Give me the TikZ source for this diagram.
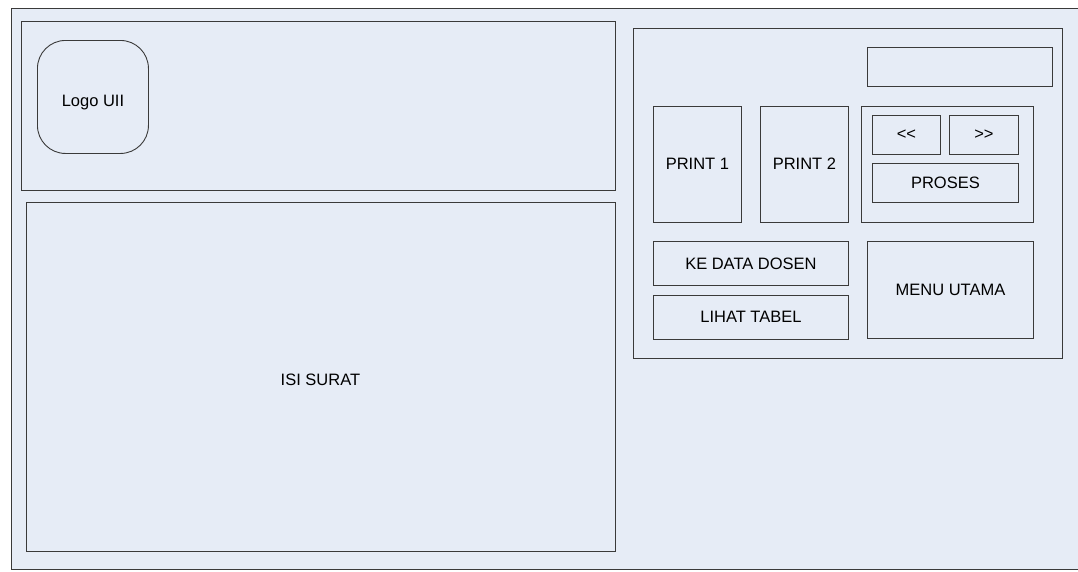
\documentclass[tikz,border=0pt]{standalone}
\usepackage{fontspec}
\setmainfont{Liberation Sans}
\definecolor{panel}{HTML}{E6ECF6}
\definecolor{edge}{HTML}{3A3A3A}
\begin{document}
\begin{tikzpicture}[x=1pt,y=-1pt,
  box/.style={draw=edge, line width=0.9pt, fill=panel, anchor=north west, inner sep=0pt,
    font=\fontsize{16.5}{20}\selectfont, text=black},
  ]
\useasboundingbox (0,0) rectangle (1078,571);
\clip (0,0) rectangle (1078,571);
\fill[white] (0,0) rectangle (1078,571);
\node[box, minimum width=1090pt, minimum height=561pt] (frame) at (11,8) {};
% left side
\node[box, minimum width=594pt, minimum height=169pt] (header) at (20.5,20.5) {};
\node[box, rounded corners=28pt, minimum width=111pt, minimum height=113pt,
  text height=20pt, text depth=0pt] (logo) at (37,40) {Logo UII};
\node[box, minimum width=589pt, minimum height=349pt,
  text height=18pt, text depth=0pt] (isi) at (25.5,202) {ISI SURAT};
% right panel
\node[box, minimum width=429pt, minimum height=330pt] (panelR) at (633,27.5) {};
\node[box, minimum width=185pt, minimum height=39pt] (input) at (867,47) {};
\node[box, minimum width=88pt, minimum height=116pt] (p1) at (653,105.5) {PRINT 1};
\node[box, minimum width=88pt, minimum height=116pt] (p2) at (760,105.5) {PRINT 2};
\node[box, minimum width=172pt, minimum height=116pt] (grp) at (860.5,105.5) {};
\node[box, minimum width=68pt, minimum height=39pt] (prev) at (872,115) {<{}<};
\node[box, minimum width=69pt, minimum height=39pt] (next) at (949,115) {>{}>};
\node[box, minimum width=146pt, minimum height=39pt] (proses) at (872,163) {PROSES};
\node[box, minimum width=195pt, minimum height=44pt] (dosen) at (653,241) {KE DATA DOSEN};
\node[box, minimum width=195pt, minimum height=44pt] (tabel) at (653,294.5) {LIHAT TABEL};
\node[box, minimum width=166pt, minimum height=97pt] (menu) at (867,241) {MENU UTAMA};
\end{tikzpicture}
\end{document}
